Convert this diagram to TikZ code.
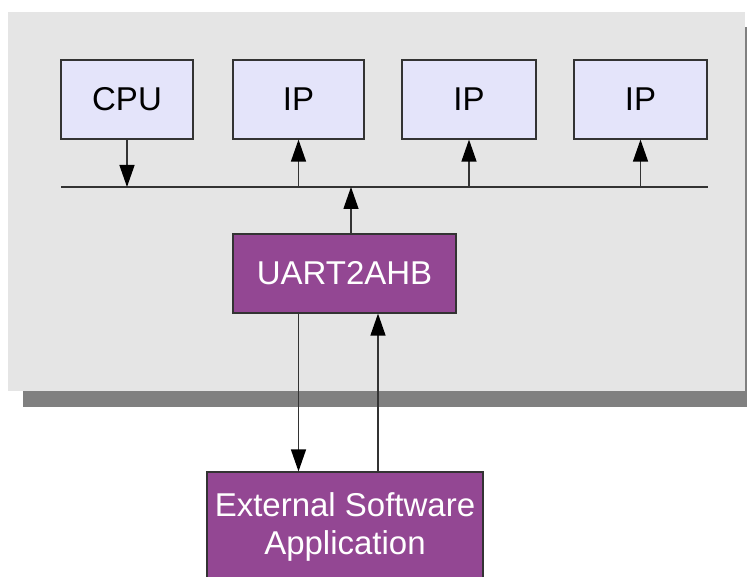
\documentclass[tikz,border=0pt]{standalone}
\usepackage{fontspec}
\setmainfont{Liberation Sans}
\usetikzlibrary{arrows.meta}
\definecolor{panelgray}{HTML}{E5E5E5}
\definecolor{shadowgray}{HTML}{808080}
\definecolor{boxfill}{HTML}{E4E4FA}
\definecolor{purplebox}{HTML}{934793}
\definecolor{edgecol}{HTML}{333333}
\tikzset{
  blockbox/.style={draw=edgecol, line width=1.2pt, fill=boxfill, rectangle,
    minimum width=132pt, minimum height=79pt, inner sep=0pt,
    font=\fontsize{33}{38}\selectfont, text=black},
  purplenode/.style={draw=edgecol, line width=1.2pt, fill=purplebox, rectangle,
    inner sep=0pt, font=\fontsize{33}{38}\selectfont, text=white, align=center},
  arr/.style={draw=edgecol, line width=1.3pt, -{Triangle[length=22pt,width=15pt,color=black]}},
  busline/.style={draw=edgecol, line width=1.3pt}
}
\begin{document}
\begin{tikzpicture}[x=1pt,y=-1pt]
\useasboundingbox (0,0) rectangle (747,577);
\begin{scope}
\clip (0,0) rectangle (747,577);
% shadow and panel
\fill[shadowgray] (23,27) rectangle (762,407);
\fill[panelgray] (8,12) rectangle (745,391);
% blocks
\node[blockbox] (cpu) at (127,99.5) {CPU};
\node[blockbox, minimum width=131pt] (ip1) at (298.5,99.5) {IP};
\node[blockbox, minimum width=134pt] (ip2) at (469,99.5) {IP};
\node[blockbox, minimum width=133pt] (ip3) at (640.5,99.5) {IP};
% bus
\coordinate (busL) at (61,187);
\coordinate (busR) at (708,187);
\draw[busline] (busL) -- (busR);
% UART2AHB
\node[purplenode, minimum width=223pt, minimum height=79pt] (uart) at (344.5,273.5) {UART2AHB};
% external
\node[purplenode, minimum width=276pt, minimum height=110pt] (ext) at (345,527) {External Software\\Application};
% arrows
\draw[arr] (cpu.south) -- (cpu.south |- busL);
\draw[arr] (ip1.south |- busL) -- (ip1.south);
\draw[arr] (ip2.south |- busL) -- (ip2.south);
\draw[arr] (ip3.south |- busL) -- (ip3.south);
\draw[arr] ([xshift=6.5pt]uart.north) -- ([xshift=6.5pt]uart.north |- busL);
\draw[arr] ([xshift=-46pt]uart.south) -- ([xshift=-46pt]uart.south |- ext.north);
\draw[arr] ([xshift=33.5pt]uart.south |- ext.north) -- ([xshift=33.5pt]uart.south);
\end{scope}
\end{tikzpicture}
\end{document}
